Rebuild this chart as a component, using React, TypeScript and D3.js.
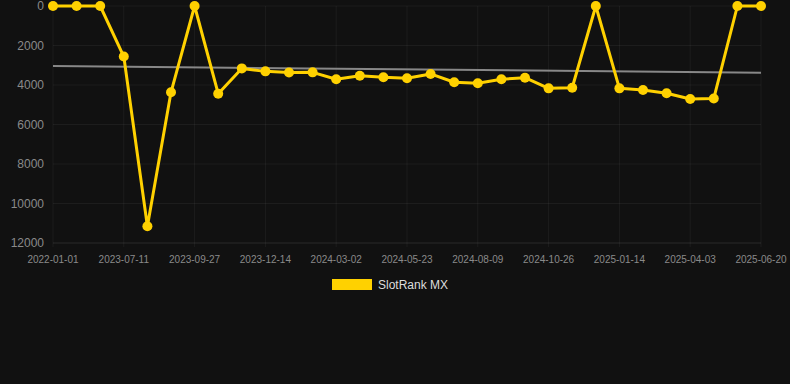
import React from "react";
import * as d3 from "d3";

const categories: string[] = [
  "2022-01-01", "2023-05-20", "2023-06-15", "2023-07-11", "2023-08-06", "2023-09-01",
  "2023-09-27", "2023-10-23", "2023-11-18", "2023-12-14", "2024-01-09", "2024-02-05",
  "2024-03-02", "2024-03-29", "2024-04-26", "2024-05-23", "2024-06-18", "2024-07-14",
  "2024-08-09", "2024-09-04", "2024-09-30", "2024-10-26", "2024-11-21", "2024-12-18",
  "2025-01-14", "2025-02-09", "2025-03-08", "2025-04-03", "2025-04-29", "2025-05-25",
  "2025-06-20",
];

const rankValues: number[] = [
  0, 0, 0, 2560, 11150, 4370, 0, 4440, 3160, 3310, 3370, 3360,
  3710, 3530, 3610, 3660, 3440, 3860, 3910, 3710, 3630, 4170,
  4140, 0, 4170, 4250, 4420, 4710, 4680, 0, 0,
];

const trendValues: number[] = [3040, 3380];
const yTicks: number[] = [0, 2000, 4000, 6000, 8000, 10000, 12000];
const seriesName = "SlotRank MX";

const W = 790;
const H = 384;
const left = 53;
const right = 761;
const top = 6;
const bottom = 243;
const gold = "#FFD100";

export default function App() {
  const x = d3.scalePoint<string>().domain(categories).range([left, right]);
  const y = d3.scaleLinear().domain([0, 12000]).range([top, bottom]);
  const line = d3
    .line<number>()
    .x((_, i) => x(categories[i]) as number)
    .y((d) => y(d));
  const shownIdx = categories.map((_, i) => i).filter((i) => i % 3 === 0);
  return (
    <svg
      width={W}
      height={H}
      style={{ position: "absolute", left: 0, top: 0, background: "#111111" }}
      fontFamily="'Liberation Sans', Arial, Helvetica, sans-serif"
    >
      <rect x={0} y={0} width={W} height={H} fill="#111111" />
      {yTicks.map((t) => (
        <line key={"gy" + t} x1={left} x2={right} y1={y(t)} y2={y(t)} stroke="#ffffff" strokeOpacity={t === 12000 ? 0.1 : 0.05} strokeWidth={1} />
      ))}
      {shownIdx.map((i) => (
        <line key={"gx" + i} x1={x(categories[i])} x2={x(categories[i])} y1={top} y2={bottom + 4} stroke="#ffffff" strokeOpacity={0.05} strokeWidth={1} />
      ))}
      {yTicks.map((t) => (
        <text key={"ty" + t} x={44} y={y(t)} dy="0.35em" textAnchor="end" fontSize={12} fill="#8a8a8a">
          {t}
        </text>
      ))}
      {shownIdx.map((i) => (
        <text key={"tx" + i} x={x(categories[i])} y={259} dy="0.35em" textAnchor="middle" fontSize={10} fill="#8a8a8a">
          {categories[i]}
        </text>
      ))}
      <line
        x1={x(categories[0])}
        x2={x(categories[categories.length - 1])}
        y1={y(trendValues[0])}
        y2={y(trendValues[1])}
        stroke="#888888"
        strokeWidth={2}
      />
      <path d={line(rankValues) || ""} fill="none" stroke={gold} strokeWidth={3} strokeLinejoin="round" />
      {rankValues.map((v, i) => (
        <circle key={"p" + i} cx={x(categories[i])} cy={y(v)} r={5} fill={gold} />
      ))}
      <rect x={332} y={279} width={40} height={11} fill={gold} />
      <text x={378} y={285} dy="0.35em" fontSize={12} fill="#dddddd">
        {seriesName}
      </text>
    </svg>
  );
}
